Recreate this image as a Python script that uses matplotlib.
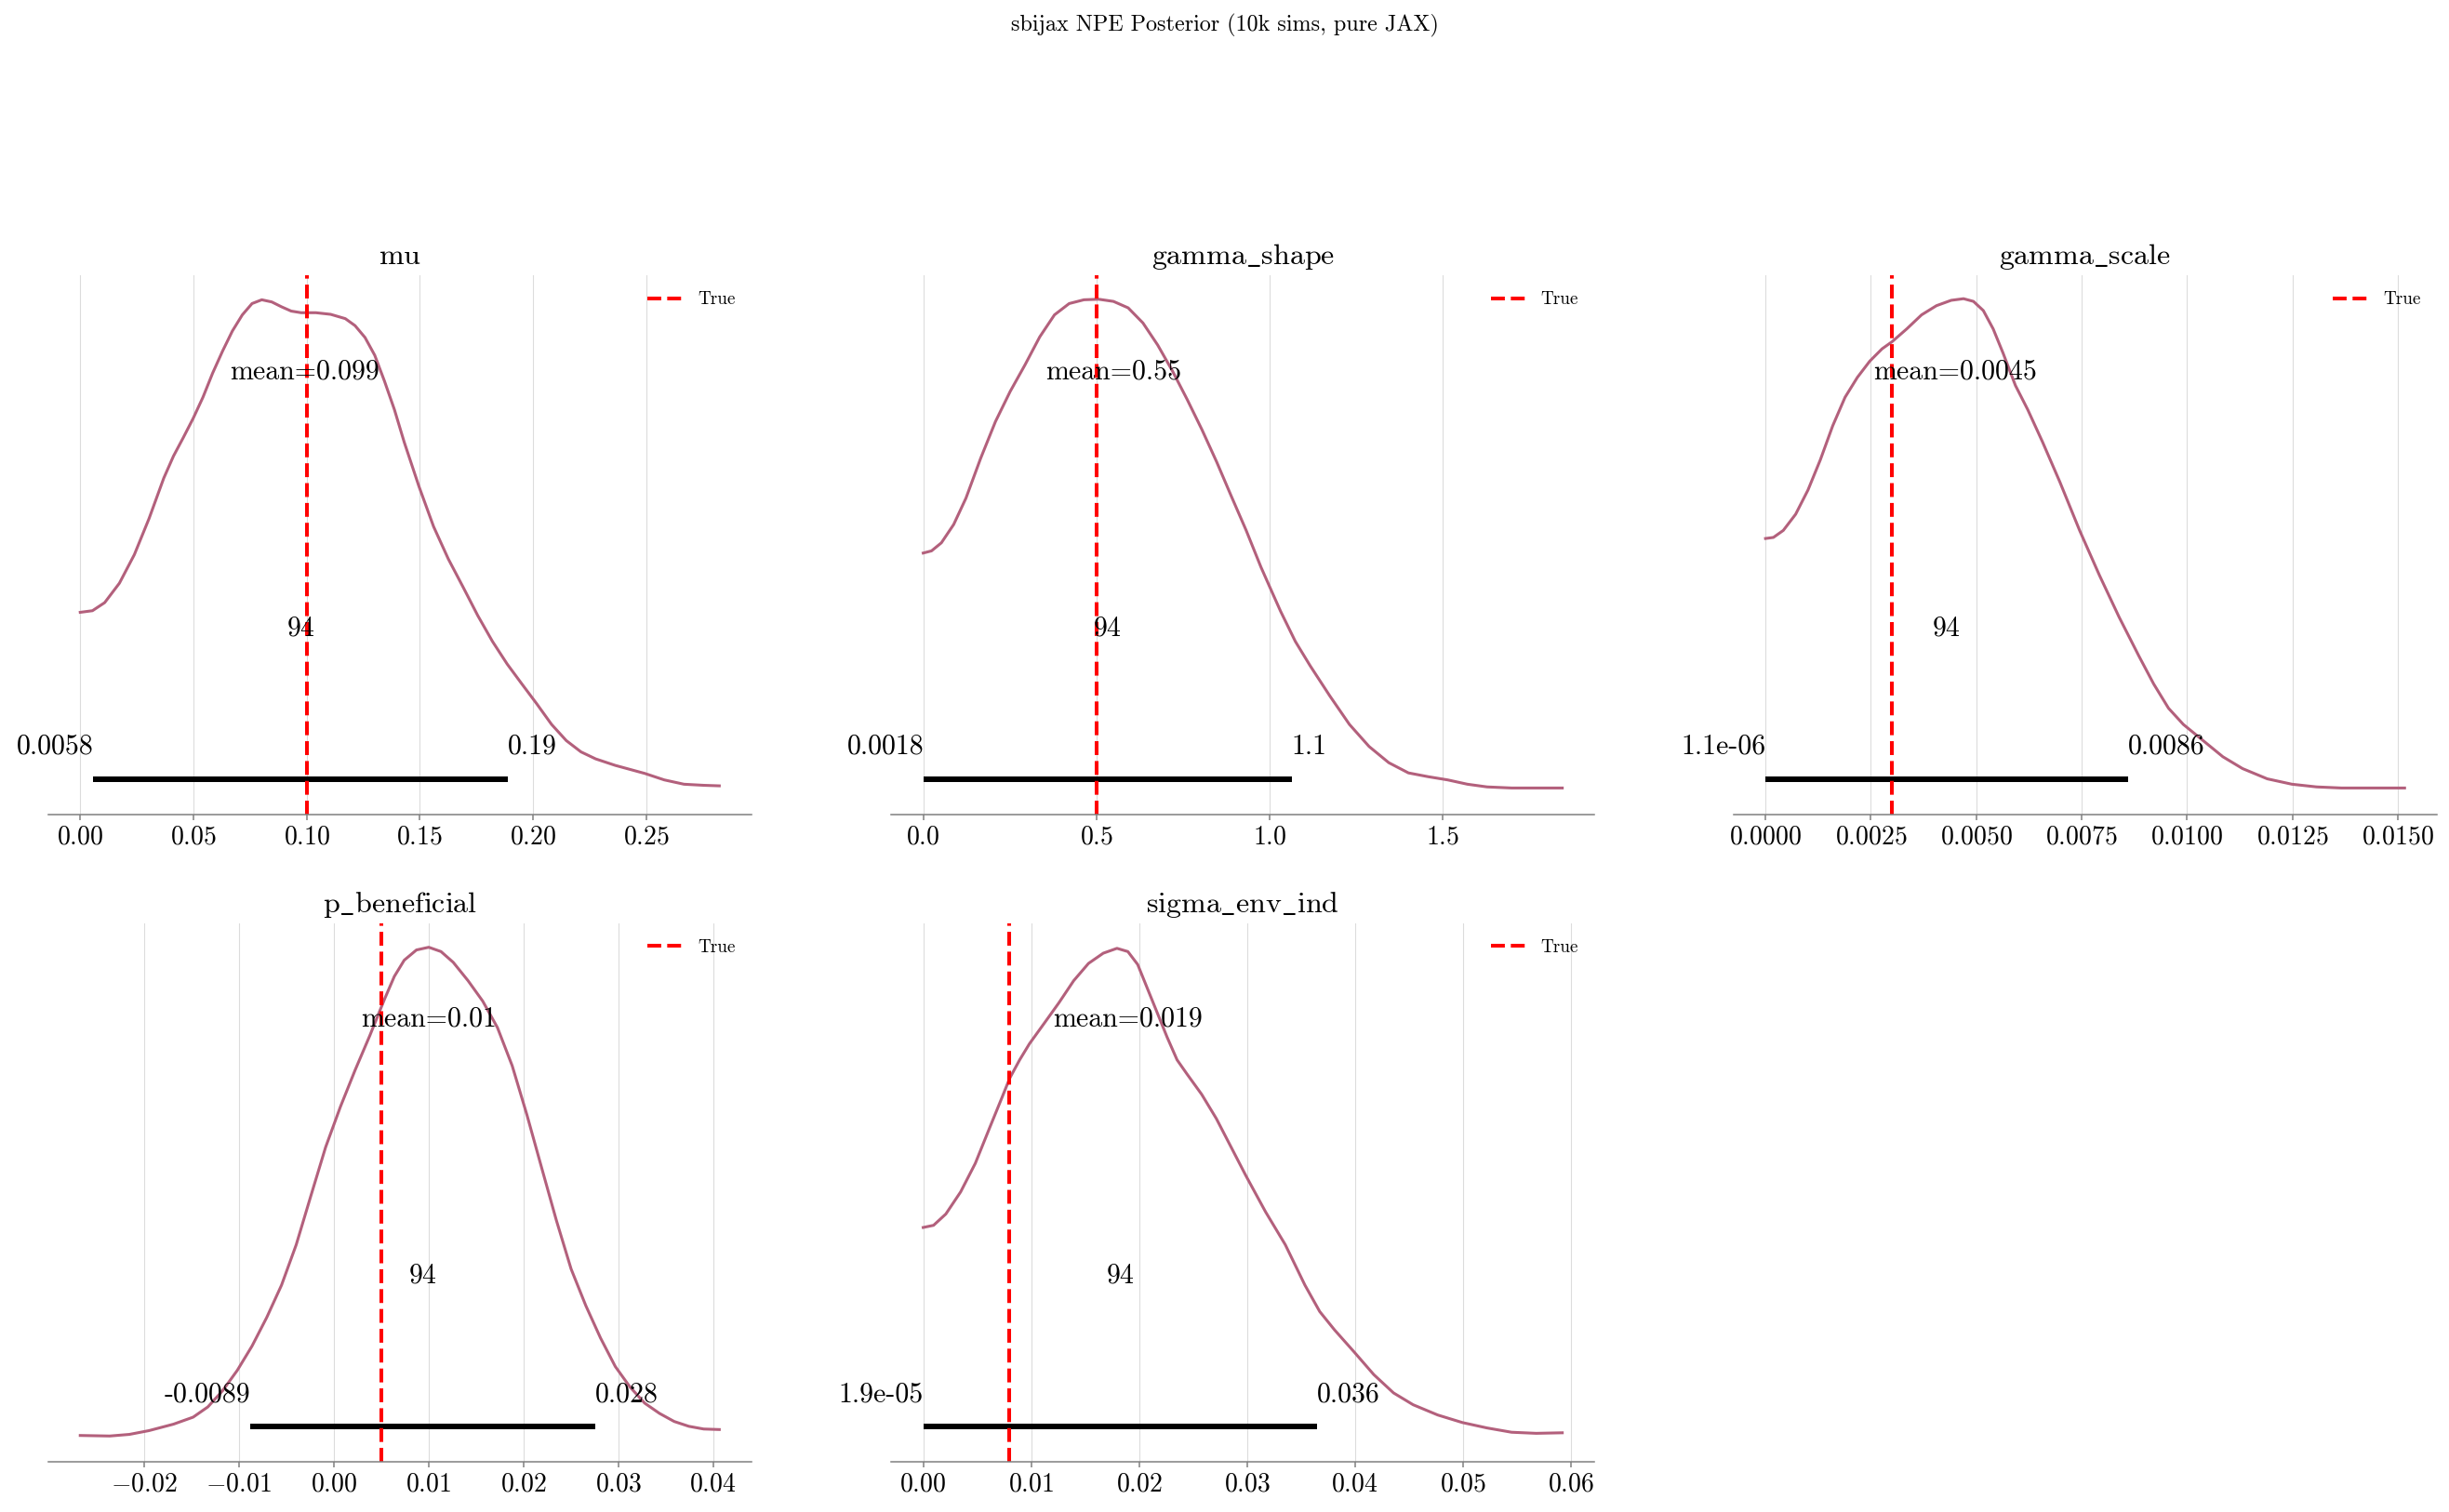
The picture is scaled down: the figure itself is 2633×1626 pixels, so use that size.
import matplotlib
matplotlib.use("Agg")
import matplotlib.pyplot as plt

plt.rcParams["font.family"] = "serif"
plt.rcParams["font.serif"] = ["cmr10"]
plt.rcParams["mathtext.fontset"] = "cm"
plt.rcParams["axes.formatter.use_mathtext"] = True

names = ["mu", "gamma_shape", "gamma_scale", "p_beneficial", "sigma_env_ind"]
true_vals = [0.1, 0.5, 0.003, 0.005, 0.008]
means = [0.099, 0.55, 0.0045, 0.01, 0.019]
mean_labels = ["0.099", "0.55", "0.0045", "0.01", "0.019"]
hdi_low = [0.0058, 0.0018, 1.1e-06, -0.0088, 1.9e-05]
hdi_high = [0.189, 1.064, 0.0086, 0.0276, 0.0365]
hdi_low_labels = ["0.0058", "0.0018", "1.1e-06", "-0.0089", "1.9e-05"]
hdi_high_labels = ["0.19", "1.1", "0.0086", "0.028", "0.036"]
hdi_label = "94"

xticks = [
    [0.0, 0.05, 0.10, 0.15, 0.20, 0.25],
    [0.0, 0.5, 1.0, 1.5],
    [0.0, 0.0025, 0.0050, 0.0075, 0.0100, 0.0125, 0.0150],
    [-0.02, -0.01, 0.0, 0.01, 0.02, 0.03, 0.04],
    [0.0, 0.01, 0.02, 0.03, 0.04, 0.05, 0.06],
]

# posterior kde curves, heights (fraction of panel height)
mu_x = [0.0, 0.0054, 0.0108, 0.0173, 0.0239, 0.0304, 0.0369, 0.0412, 0.0455, 0.0499,
        0.0542, 0.0585, 0.0629, 0.0672, 0.0716, 0.0759, 0.0802, 0.0846, 0.0889, 0.0932,
        0.0976, 0.1041, 0.1106, 0.1171, 0.1214, 0.1258, 0.1301, 0.1344, 0.1388, 0.1431,
        0.1496, 0.1561, 0.1626, 0.1691, 0.1756, 0.1821, 0.1886, 0.1951, 0.2017, 0.2082,
        0.2147, 0.2212, 0.2277, 0.2363, 0.2494, 0.2580, 0.2667, 0.2754, 0.2823]
mu_y = [0.375, 0.378, 0.393, 0.429, 0.482, 0.549, 0.624, 0.665, 0.699, 0.735,
        0.774, 0.819, 0.860, 0.897, 0.927, 0.948, 0.955, 0.951, 0.942, 0.934,
        0.931, 0.931, 0.928, 0.920, 0.907, 0.885, 0.852, 0.804, 0.751, 0.691,
        0.609, 0.534, 0.474, 0.422, 0.369, 0.321, 0.279, 0.242, 0.205, 0.167,
        0.137, 0.116, 0.103, 0.091, 0.076, 0.064, 0.056, 0.054, 0.053]

gshape_x = [0.0, 0.024, 0.0525, 0.088, 0.1235, 0.166, 0.2086, 0.2512, 0.2937, 0.3363,
            0.3789, 0.4214, 0.464, 0.5066, 0.5492, 0.5917, 0.6343, 0.6769, 0.7194, 0.762,
            0.8046, 0.8472, 0.8897, 0.9323, 0.9749, 1.0004, 1.0316, 1.0742, 1.1168, 1.1736,
            1.2303, 1.2871, 1.3438, 1.4006, 1.4574, 1.5141, 1.5709, 1.6276, 1.6986, 1.7695,
            1.8447]
gshape_y = [0.485, 0.489, 0.504, 0.538, 0.587, 0.661, 0.729, 0.785, 0.834, 0.886,
            0.927, 0.948, 0.955, 0.956, 0.952, 0.940, 0.912, 0.871, 0.823, 0.770,
            0.714, 0.654, 0.590, 0.527, 0.459, 0.422, 0.377, 0.321, 0.276, 0.220,
            0.167, 0.126, 0.096, 0.077, 0.070, 0.064, 0.056, 0.051, 0.049, 0.049,
            0.049]

gscale_x = [0.0, 0.000188, 0.000422, 0.000715, 0.001008, 0.001301, 0.001594, 0.001887,
            0.00218, 0.002473, 0.002766, 0.003, 0.003352, 0.003703, 0.004055, 0.004406,
            0.004699, 0.004934, 0.005168, 0.005402, 0.005637, 0.00593, 0.006223, 0.006574,
            0.006984, 0.007453, 0.007922, 0.008391, 0.008859, 0.009211, 0.009563, 0.009914,
            0.010383, 0.010852, 0.01132, 0.011906, 0.012492, 0.013078, 0.013664, 0.01425,
            0.015164]
gscale_y = [0.512, 0.514, 0.527, 0.557, 0.602, 0.658, 0.721, 0.774, 0.811, 0.841,
            0.864, 0.877, 0.901, 0.927, 0.944, 0.954, 0.957, 0.952, 0.935, 0.901,
            0.856, 0.796, 0.751, 0.691, 0.617, 0.527, 0.444, 0.366, 0.294, 0.242,
            0.197, 0.167, 0.137, 0.107, 0.085, 0.066, 0.056, 0.051, 0.049, 0.049,
            0.049]

pben_x = [-0.02673, -0.02362, -0.02155, -0.01948, -0.01689, -0.01482, -0.01327, -0.01172,
          -0.01016, -0.00861, -0.00706, -0.0055, -0.00395, -0.0024, -0.00085, 0.00071,
          0.00226, 0.00381, 0.00537, 0.0064, 0.00744, 0.00873, 0.01003, 0.01132, 0.01261,
          0.01417, 0.01572, 0.01727, 0.01883, 0.02038, 0.02193, 0.02349, 0.02504, 0.02659,
          0.02814, 0.0297, 0.03125, 0.0328, 0.03436, 0.03591, 0.03746, 0.03902, 0.04067]
pben_y = [0.049, 0.048, 0.051, 0.058, 0.070, 0.083, 0.102, 0.132, 0.170, 0.215,
          0.268, 0.328, 0.403, 0.494, 0.584, 0.659, 0.727, 0.791, 0.859, 0.901,
          0.931, 0.950, 0.955, 0.947, 0.927, 0.893, 0.855, 0.806, 0.735, 0.644,
          0.546, 0.448, 0.358, 0.290, 0.230, 0.177, 0.139, 0.109, 0.090, 0.075,
          0.066, 0.061, 0.060]

senv_x = [0.0, 0.00096, 0.0021, 0.00347, 0.00483, 0.0062, 0.00734, 0.00802, 0.00894,
          0.00985, 0.01122, 0.01258, 0.01395, 0.01532, 0.01669, 0.01796, 0.01897, 0.01988,
          0.02079, 0.0217, 0.02261, 0.02353, 0.02444, 0.02581, 0.02717, 0.02854, 0.02991,
          0.03173, 0.03356, 0.03538, 0.03675, 0.03812, 0.03994, 0.04176, 0.04359, 0.04541,
          0.04769, 0.04997, 0.05225, 0.05453, 0.05681, 0.05923]
senv_y = [0.435, 0.439, 0.460, 0.501, 0.554, 0.622, 0.678, 0.712, 0.746, 0.776,
          0.814, 0.852, 0.893, 0.925, 0.944, 0.953, 0.947, 0.923, 0.878, 0.833,
          0.788, 0.746, 0.720, 0.682, 0.637, 0.584, 0.531, 0.464, 0.403, 0.328,
          0.279, 0.245, 0.204, 0.162, 0.128, 0.106, 0.087, 0.073, 0.063, 0.055,
          0.053, 0.054]

curves_x = [mu_x, gshape_x, gscale_x, pben_x, senv_x]
curves_y = [mu_y, gshape_y, gscale_y, pben_y, senv_y]

kde_color = "#b3607c"
W, H = 2633, 1626
fig = plt.figure(figsize=(W / 100, H / 100), dpi=100)

col_left = [51.9, 958.2, 1863.8]
row_bottom = [875.8, 1572.1]
ax_w, ax_h = 755.8, 579.5

for i, name in enumerate(names):
    r, c = divmod(i, 3)
    ax = fig.add_axes([col_left[c] / W, 1 - row_bottom[r] / H, ax_w / W, ax_h / H])

    ax.plot(curves_x[i], curves_y[i], color=kde_color, lw=2.2)
    ax.plot([hdi_low[i], hdi_high[i]], [0.065, 0.065], color="k", lw=4.3,
            solid_capstyle="butt")
    ax.text(hdi_low[i], 0.112, hdi_low_labels[i], ha="right", fontsize=21.5)
    ax.text(hdi_high[i], 0.112, hdi_high_labels[i], ha="left", fontsize=21.5)
    ax.text((hdi_low[i] + hdi_high[i]) / 2, 0.332, hdi_label, ha="center", fontsize=21.5)
    ax.text(means[i], 0.808, "mean=" + mean_labels[i], ha="center", fontsize=21.5)
    ax.axvline(true_vals[i], color="red", ls="--", lw=2.9, label="True")

    ax.set_ylim(0, 1)
    ax.set_yticks([])
    ax.set_xticks(xticks[i])
    ax.grid(axis="x", color="#dcdcdc", lw=0.8)
    ax.set_axisbelow(True)
    for s in ["left", "top", "right"]:
        ax.spines[s].set_visible(False)
    ax.spines["bottom"].set_color("#808080")
    ax.spines["bottom"].set_linewidth(1.1)
    ax.tick_params(axis="x", colors="#808080", labelcolor="black", length=4.3,
                   width=1.1, labelsize=20, pad=4)
    ax.set_title(r"$\mathrm{" + name.replace("_", r"\_") + "}$", fontsize=23, pad=8.5)
    ax.legend(loc="upper right", frameon=False, fontsize=13.8)

fig.suptitle("sbijax NPE Posterior (10k sims, pure JAX)", fontsize=17.4, y=0.991, va="top")

fig.savefig("out.png", dpi=100)
